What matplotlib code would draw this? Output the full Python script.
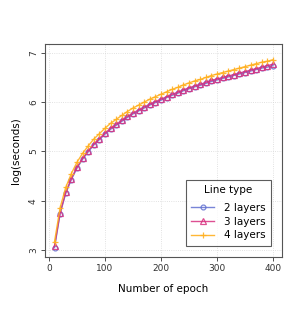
import matplotlib
matplotlib.use("Agg")
import matplotlib.pyplot as plt

# --- data ---
epochs = list(range(10, 401, 10))
layers2 = [3.05, 3.74, 4.15, 4.43, 4.66, 4.84, 4.99, 5.13, 5.24, 5.35,
           5.45, 5.53, 5.61, 5.69, 5.76, 5.82, 5.88, 5.94, 5.99, 6.04,
           6.09, 6.14, 6.18, 6.23, 6.27, 6.31, 6.34, 6.38, 6.42, 6.45,
           6.48, 6.51, 6.54, 6.57, 6.60, 6.63, 6.66, 6.69, 6.71, 6.74]
layers3 = [3.08, 3.76, 4.17, 4.45, 4.68, 4.86, 5.01, 5.15, 5.26, 5.37,
           5.47, 5.55, 5.63, 5.71, 5.78, 5.84, 5.90, 5.96, 6.01, 6.06,
           6.11, 6.16, 6.20, 6.25, 6.29, 6.33, 6.36, 6.40, 6.44, 6.47,
           6.50, 6.53, 6.56, 6.59, 6.62, 6.65, 6.68, 6.71, 6.74, 6.77]
layers4 = [3.17, 3.86, 4.27, 4.55, 4.78, 4.96, 5.11, 5.25, 5.36, 5.47,
           5.57, 5.65, 5.73, 5.81, 5.88, 5.94, 6.00, 6.06, 6.11, 6.16,
           6.21, 6.26, 6.30, 6.35, 6.39, 6.43, 6.46, 6.50, 6.54, 6.57,
           6.60, 6.63, 6.66, 6.69, 6.72, 6.75, 6.78, 6.81, 6.83, 6.86]
labels = ["2 layers", "3 layers", "4 layers"]
x_ticks = [0, 100, 200, 300, 400]
y_ticks = [3, 4, 5, 6, 7]

fig = plt.figure(figsize=(3.05, 3.14), dpi=100)
ax = fig.add_axes([0.1475, 0.1815, 0.777, 0.6785])

ax.grid(True, color="#d8d8d8", linestyle=":", linewidth=0.6)
ax.set_axisbelow(True)

ax.plot(epochs, layers2, color="#6070d0", marker="o", markersize=3.5,
        markerfacecolor="none", markeredgewidth=0.9, linewidth=1.0,
        alpha=0.85, label=labels[0])
ax.plot(epochs, layers3, color="#d8307f", marker="^", markersize=3.8,
        markerfacecolor="none", markeredgewidth=0.9, linewidth=1.0,
        alpha=0.85, label=labels[1])
ax.plot(epochs, layers4, color="#ffb020", marker="+", markersize=5,
        markeredgewidth=0.9, linewidth=1.0, alpha=0.9, label=labels[2])

ax.set_xlim(-7, 416)
ax.set_ylim(2.86, 7.18)
ax.set_xticks(x_ticks)
ax.set_yticks(y_ticks)
ax.tick_params(direction="out", length=3, width=0.6, labelsize=6.5,
               colors="#333333", pad=2)
for lab in ax.get_yticklabels():
    lab.set_rotation(90)
    lab.set_va("center")
for s in ax.spines.values():
    s.set_color("#555555")
    s.set_linewidth(0.8)

ax.set_xlabel("Number of epoch", fontsize=7.5, labelpad=8)
ax.set_ylabel("log(seconds)", fontsize=7.5, labelpad=6)

leg = ax.legend(title="Line type", loc="lower right", fontsize=7.5,
                title_fontsize=7.5, frameon=True, fancybox=False,
                edgecolor="#333333", borderaxespad=1.1, handlelength=2.2,
                handletextpad=0.9, labelspacing=0.35, borderpad=0.5)
leg.get_frame().set_linewidth(0.8)
leg._legend_box.sep = 6

fig.savefig("out.png", dpi=100)
